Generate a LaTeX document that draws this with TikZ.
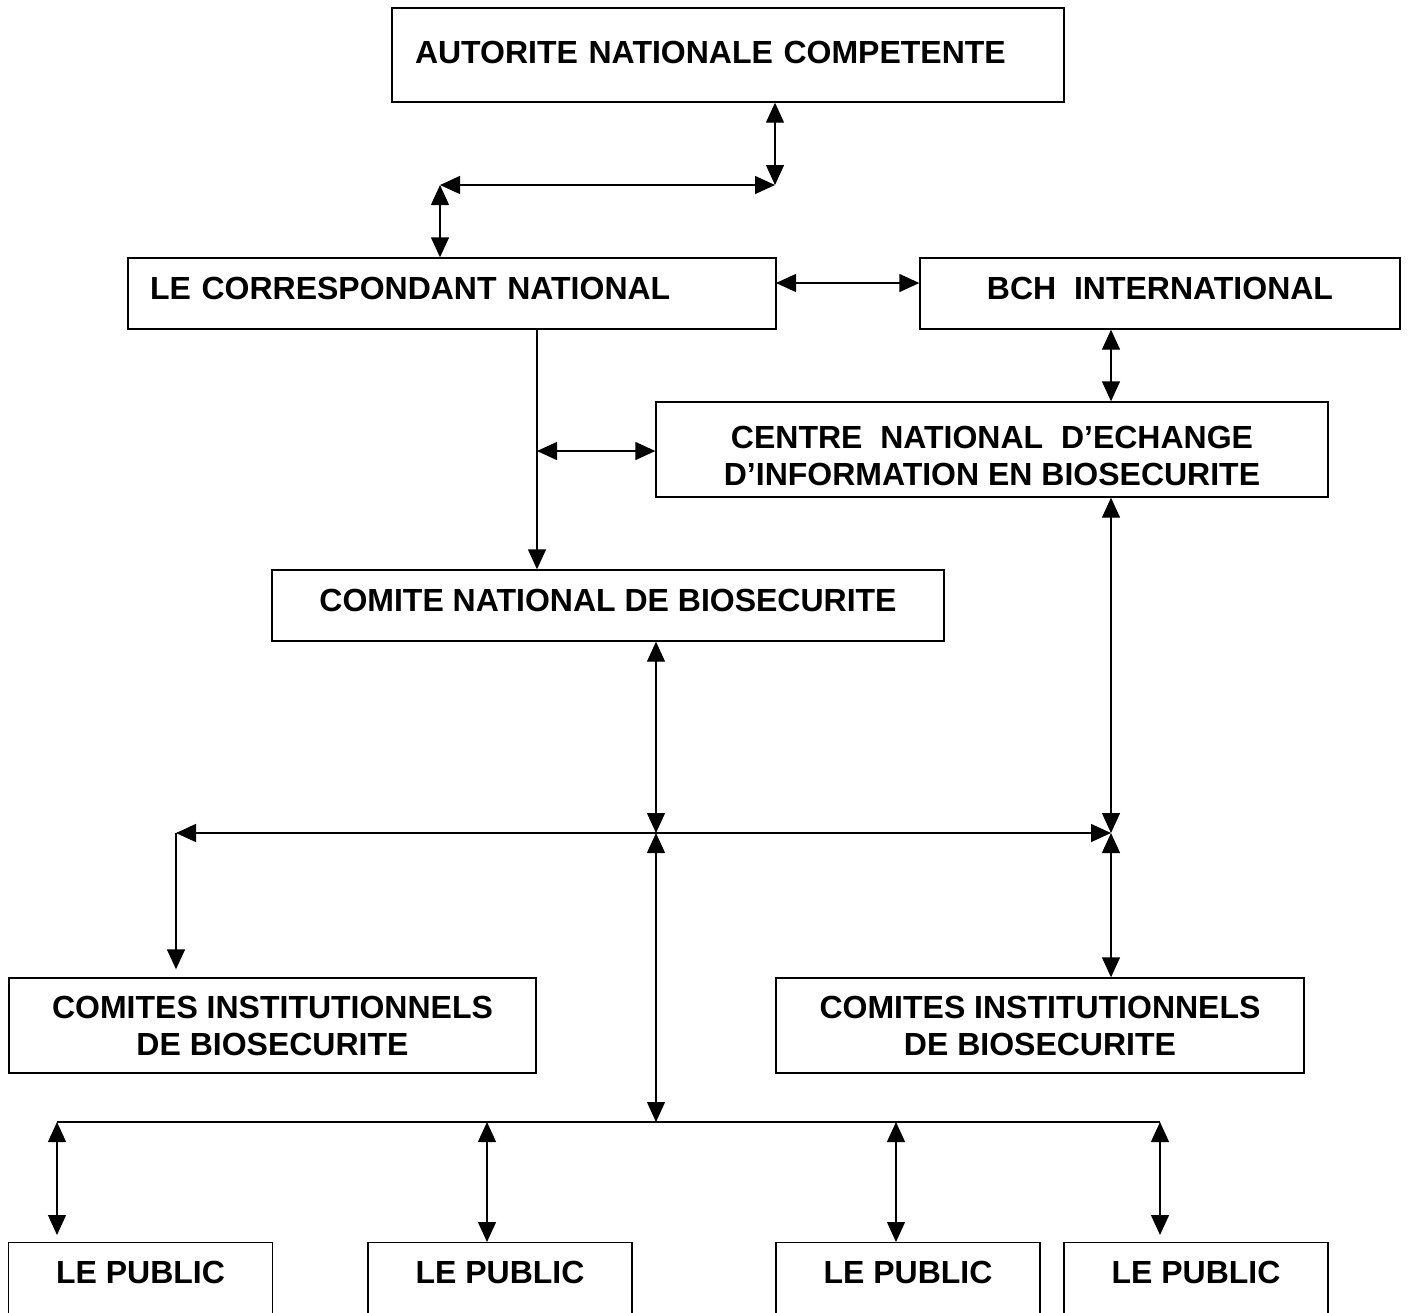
\documentclass[tikz,border=0pt]{standalone}
\usepackage{fontspec}
\setmainfont{Liberation Sans}
\usetikzlibrary{arrows.meta}

\begin{document}
\begin{tikzpicture}[x=0.5pt, y=-0.5pt, line width=0.7pt, >={Triangle[length=10pt,width=9pt]}]
        \tikzstyle{box} = [rectangle, draw=black, line width=0.7pt, inner sep=0pt, text centered, font=\bfseries\fontsize{16}{18.5}\selectfont]
        \tikzstyle{onebox} = [box, text height=20.5pt, text depth=15pt]
        \tikzstyle{public} = [box, anchor=north, minimum width=132pt, text height=20.5pt, text depth=19.5pt]
        \useasboundingbox (0,0) rectangle (1410,1313);

        \node[box, text height=27.5pt, text depth=19.5pt, text width=313pt, inner xsep=11.5pt, align=left] (autorite) at (728,55) {AUTORITE NATIONALE COMPETENTE};
        \node[onebox, text width=302pt, inner xsep=11pt, align=left] (correspondant) at (452,293.5) {LE CORRESPONDANT NATIONAL};
        \node[onebox, minimum width=240pt] (bch) at (1160,293.5) {BCH\ \ INTERNATIONAL};
        \node[box, minimum width=336pt, text height=41.75pt, text depth=5.75pt, align=center] (centre) at (992,449.5) {CENTRE\ \ NATIONAL\ \ D’ECHANGE\\D’INFORMATION EN BIOSECURITE};
        \node[box, minimum width=336pt, text height=20.75pt, text depth=14.75pt] (comite) at (608,605.5) {COMITE NATIONAL DE BIOSECURITE};
        \node[box, minimum width=263.5pt, minimum height=47.5pt, align=center] (cibLeft) at (272.5,1025.5) {COMITES INSTITUTIONNELS\\DE BIOSECURITE};
        \node[box, minimum width=264pt, minimum height=47.5pt, align=center] (cibRight) at (1040,1025.5) {COMITES INSTITUTIONNELS\\DE BIOSECURITE};

        \node[public] (public1) at (140.5,1242) {LE PUBLIC};
        \node[public] (public2) at (500,1242) {LE PUBLIC};
        \node[public] (public3) at (908,1242) {LE PUBLIC};
        \node[public] (public4) at (1196,1242) {LE PUBLIC};

        \coordinate (j1) at (775,185);
        \coordinate (j2) at (440,185);
        \coordinate (k1) at (537,451);
        \coordinate (k2) at (776,283);
        \coordinate (j3) at (656,833);
        \coordinate (j4) at (1111,833);
        \coordinate (j5) at (176,833);
        \coordinate (j6) at (656,1122);
        \coordinate (p1) at (57,1122);
        \coordinate (p2) at (487,1122);
        \coordinate (p3) at (896,1122);
        \coordinate (p4) at (1160,1122);

        %autorite-correspondant
        \draw[<->] (autorite.south -| j1) -- (j1);
        \draw[<->] (j1) -- (j2);
        \draw[<->] (j2) -- (correspondant.north -| j2);

        %correspondant-bch
        \draw[<->] (k2) -- (k2 -| bch.west);
        \draw[<->] (bch.south -| j4) -- (centre.north -| j4);

        %correspondant-comite
        \draw[->] (correspondant.south -| k1) -- (comite.north -| k1);
        \draw[<->] (k1) -- (k1 -| centre.west);

        %comite-centre-comites
        \draw[<->] (comite.south -| j3) -- (j3);
        \draw[<->] (centre.south -| j4) -- (j4);
        \draw[<->] (j5) -- (j4);
        \draw[->, shorten >=4pt] (j5) -- (cibLeft.north -| j5);
        \draw[<->] (j4) -- (cibRight.north -| j4);

        %public
        \draw[<->] (j3) -- (j6);
        \draw (p1) -- (p4);
        \draw[<->, shorten >=3.5pt] (p1) -- (public1.north -| p1);
        \draw[<->] (p2) -- (public2.north -| p2);
        \draw[<->] (p3) -- (public3.north -| p3);
        \draw[<->, shorten >=3.5pt] (p4) -- (public4.north -| p4);
    \end{tikzpicture}
\end{document}
